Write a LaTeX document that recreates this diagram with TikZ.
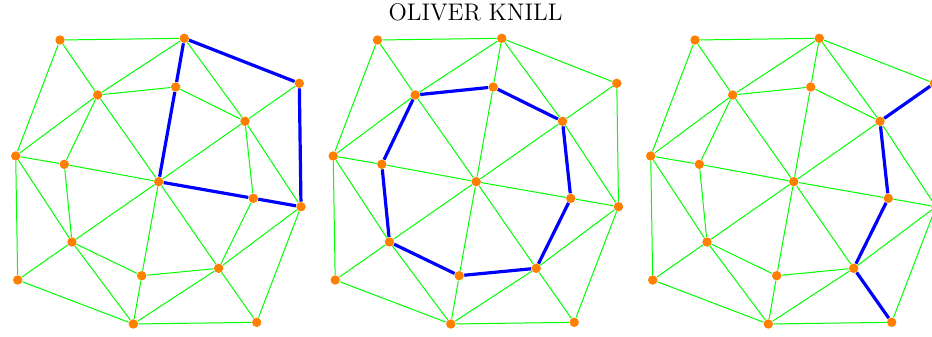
\documentclass[tikz,border=0pt]{standalone}
\usepackage{tikz}
\usetikzlibrary{positioning}
\tikzset{
  vtx/.style={circle, fill=orange, inner sep=0pt, minimum size=4.7pt},
  gedge/.style={green, line width=0.5pt},
  bedge/.style={blue, line width=1.6pt},
  ttl/.style={font=\fontsize{12}{14}\selectfont, anchor=base, inner sep=0pt},
}
\begin{document}
\begin{tikzpicture}[x=0.5pt, y=-0.5pt]
  \useasboundingbox (0,0) rectangle (932,337);
  \clip (0,0) rectangle (932,337);
  \node[ttl] (title) at (475.5,20.7) {OLIVER KNILL};

  % the same triangulated graph, three times
  \foreach \p/\dx in {1/0, 2/317.5, 3/635} {
    \begin{scope}[shift={(\dx,0)}]
      \node[vtx] (\p-a) at (60,40) {};
      \node[vtx] (\p-b) at (184.3,38.3) {};
      \node[vtx] (\p-c) at (299.3,83.3) {};
      \node[vtx] (\p-d) at (97.7,95) {};
      \node[vtx] (\p-e) at (175.7,87) {};
      \node[vtx] (\p-f) at (245,121.3) {};
      \node[vtx] (\p-g) at (15.7,156) {};
      \node[vtx] (\p-h) at (64.3,164.3) {};
      \node[vtx] (\p-i) at (158.7,181.7) {};
      \node[vtx] (\p-j) at (253.3,198.3) {};
      \node[vtx] (\p-k) at (301,206.7) {};
      \node[vtx] (\p-l) at (72,242) {};
      \node[vtx] (\p-m) at (141.7,275.7) {};
      \node[vtx] (\p-n) at (218.7,268.3) {};
      \node[vtx] (\p-o) at (17.7,280) {};
      \node[vtx] (\p-p) at (133.3,324) {};
      \node[vtx] (\p-q) at (256.7,322.3) {};
    \end{scope}
    \foreach \u/\v in {a/b, a/g, a/d, b/d, b/e, b/c, b/f, d/e, d/g, d/h, d/i,
                       e/i, e/f, c/f, c/k, f/i, f/j, f/k, g/h, g/o, g/l, h/l,
                       h/i, i/j, i/l, i/m, i/n, j/k, j/n, k/n, k/q, l/o, l/m,
                       l/p, o/p, m/n, m/p, n/p, n/q, p/q}
      \draw[gedge] (\p-\u) -- (\p-\v);
  }

  % highlighted paths
  \foreach \u/\v in {b/e, e/i, i/j, j/k, k/c, c/b}
    \draw[bedge] (1-\u) -- (1-\v);
  \foreach \u/\v in {d/e, e/f, f/j, j/n, n/m, m/l, l/h, h/d}
    \draw[bedge] (2-\u) -- (2-\v);
  \foreach \u/\v in {c/f, f/j, j/n, n/q}
    \draw[bedge] (3-\u) -- (3-\v);
\end{tikzpicture}
\end{document}
